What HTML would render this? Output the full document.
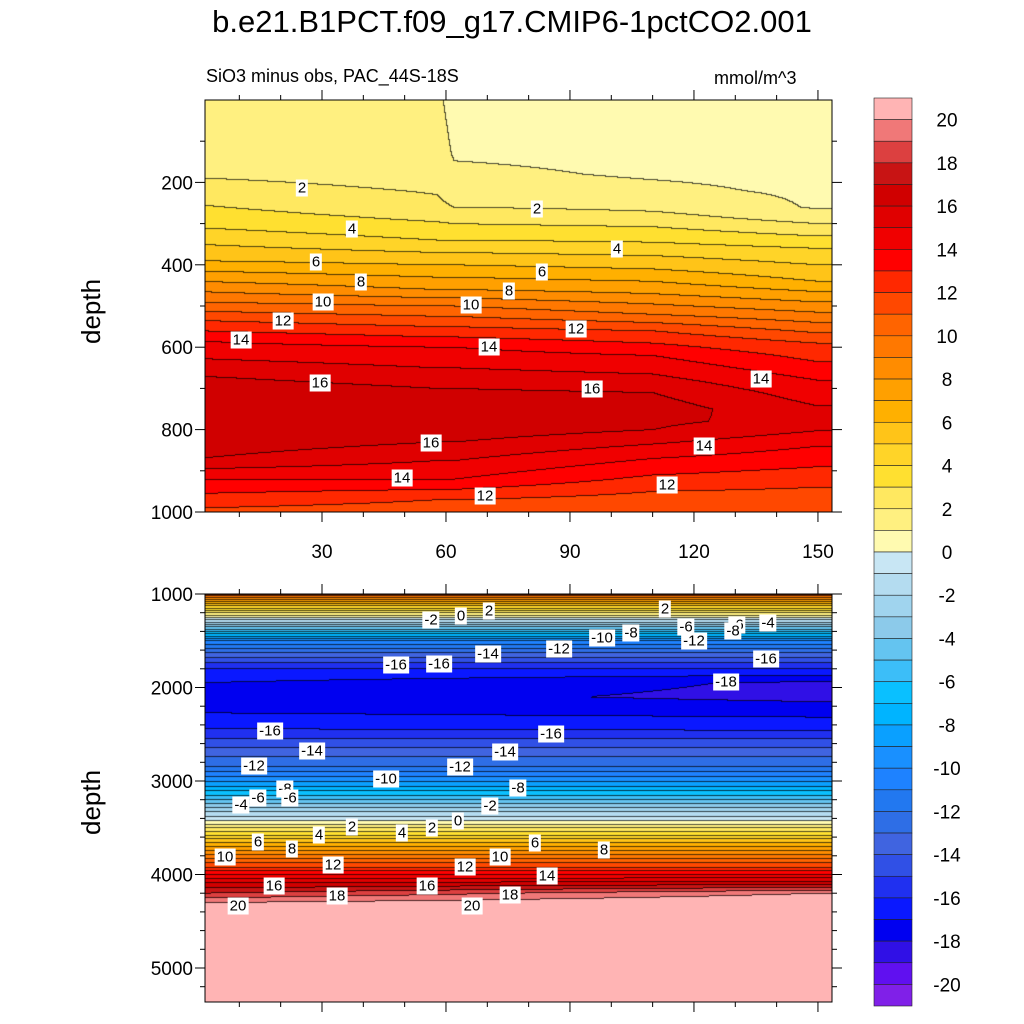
<!DOCTYPE html>
<html><head><meta charset="utf-8">
<style>
body{margin:0;background:#fff;width:1024px;height:1024px;position:relative;overflow:hidden;font-family:"Liberation Sans",sans-serif}
canvas{position:absolute}
.t{position:absolute;color:#000;white-space:nowrap}
.lab{position:absolute;background:#fff;font-size:15px;padding:0 2px;line-height:17px;transform:translate(-50%,-50%)}
</style></head><body>
<div class="t" style="left:0;width:1024px;text-align:center;top:4px;font-size:31px">b.e21.B1PCT.f09_g17.CMIP6-1pctCO2.001</div>
<div class="t" style="left:206px;top:66px;font-size:18px">SiO3 minus obs, PAC_44S-18S</div>
<div class="t" style="left:714px;top:68px;font-size:18px">mmol/m^3</div>
<div class="t" style="left:76px;top:344px;font-size:26px;transform:rotate(-90deg);transform-origin:left top">depth</div>
<div class="t" style="left:76px;top:835px;font-size:26px;transform:rotate(-90deg);transform-origin:left top">depth</div>
<canvas id="c1" width="627" height="412" style="left:205px;top:100px"></canvas>
<canvas id="c2" width="627" height="408" style="left:205px;top:594px"></canvas>
<svg id="ov" width="1024" height="1024" style="position:absolute;left:0;top:0"></svg>
<div id="labs"></div>
<script>
const colors=["#FFB4B4","#F07878","#DC4040","#C81414","#D00000","#E00000","#F00000","#FF0000","#FF2800","#FF4800","#FF6400","#FF7800","#FF8C00","#FFA000","#FFB000","#FFC418","#FFD428","#FFE030","#FFE860","#FFF080","#FFFAB0","#C8E6F4","#B4DCF0","#A0D4EE","#8CCAEA","#64C4F0","#3CBEF8","#0AC0FF","#00B4FF","#0AA0FF","#1990FF","#1E82FF","#2278F0","#2E6EE6","#4064E0","#3050E6","#2030F0","#0A18FF","#0000F0","#3010E6","#6010F0","#8020E8"];
const cbTicks=[20,18,16,14,12,10,8,6,4,2,0,-2,-4,-6,-8,-10,-12,-14,-16,-18,-20];
// top panel data: per-column profiles (depth, value)
const topX=[0,58,62,110,150];
const topD0=[0,100,180,215,310,390,440,490,535,585,670,700,750,830,870,920,990,1000];
const topV0=[1.3,1.5,1.9,2.3,4,6,8,10,12,14,16,16.6,16.9,16.6,16,14,12,11.8];
const topD1=[0,150,200,260,340,400,460,500,550,600,700,750,800,830,920,970,1000];
const topV1=[1.2,1.5,1.8,2.2,4,6,8,10,12,14,16,16.9,16.6,16,14,12,11.5];
const topD2=[0,130,200,260,340,400,460,500,550,600,700,750,800,830,920,970,1000];
const topV2=[0.6,0.9,1.3,2,4,6,8,10,12,14,16,16.9,16.6,16,14,12,11.5];
const topD3=[0,180,220,270,345,410,470,520,560,620,710,750,800,870,950,1000];
const topV3=[0.5,0.9,1.2,2,4,6,8,10,12,14,16,16.5,16,14,12,11];
const topD4=[0,260,285,300,360,440,490,540,590,680,780,840,940,1000];
const topV4=[0.5,0.9,1.5,2,4,6,8,10,12,14,15.6,14,12,11];
const topD=[topD0,topD1,topD2,topD3,topD4],topV=[topV0,topV1,topV2,topV3,topV4];
// bottom panel data
const botX=[0,150];
const botDepth=[1000,1100,1200,1300,1400,1500,1600,1700,1800,1950,2100,2270,2440,2640,2840,3060,3240,3420,3580,3740,3920,4090,4200,4300,4350,5400];
const botV0=[11,6,2,-2,-6,-10,-12.5,-14.5,-16,-17,-17.5,-17,-16,-14,-12,-8,-4,0,4,8,12,16,18,20,21,21];
const botV1=[11,6,2,-2,-6,-10,-12.5,-14.5,-16,-18.2,-18.3,-17.3,-16.2,-14,-12,-8,-4,0,4,8,12,16.5,20,21,21,21];
const botD=[botDepth,botDepth],botV=[botV0,botV1];
const xTicks=[30,60,90,120,150];
function xs(x){return 198+x*4.133;}
function interp(arr,vals,v){let n=arr.length;if(v<=arr[0])return vals[0];if(v>=arr[n-1])return vals[n-1];
 for(let i=0;i<n-1;i++)if(v<=arr[i+1]){let t=(v-arr[i])/(arr[i+1]-arr[i]);return vals[i]+t*(vals[i+1]-vals[i]);}}
function field(X,D,V,x,d){let col=X.map((_,i)=>interp(D[i],V[i],d));return interp(X,col,x);}
function idx(v){return Math.max(0,Math.min(41,20-Math.floor(v)));}
function draw(id,X,D,V,ys0,dpp,x0px){
 const c=document.getElementById(id),g=c.getContext('2d'),W=c.width,H=c.height;
 const img=g.createImageData(W,H);const L=new Int16Array(W*H);
 const rgb=colors.map(h=>[parseInt(h.substr(1,2),16),parseInt(h.substr(3,2),16),parseInt(h.substr(5,2),16)]);
 for(let j=0;j<H;j++){const d=ys0+j/dpp;for(let i=0;i<W;i++){const x=(x0px+i-198)/4.133;L[j*W+i]=idx(field(X,D,V,x,d));}}
 for(let j=0;j<H;j++)for(let i=0;i<W;i++){const k=j*W+i;let c3=rgb[L[k]];
  let edge=(i<W-1&&L[k]!==L[k+1])||(j<H-1&&L[k]!==L[k+W]);
  const p=k*4;if(edge){img.data[p]=c3[0]*0.3;img.data[p+1]=c3[1]*0.3;img.data[p+2]=c3[2]*0.3;}else{img.data[p]=c3[0];img.data[p+1]=c3[1];img.data[p+2]=c3[2];}img.data[p+3]=255;}
 g.putImageData(img,0,0);
}
draw('c1',topX,topD,topV,0,0.412,205);
draw('c2',botX,botD,botV,1000,0.0935,205);
const NS='http://www.w3.org/2000/svg';const ov=document.getElementById('ov');
function el(t,a,txt){const e=document.createElementNS(NS,t);for(const k in a)e.setAttribute(k,a[k]);if(txt!==undefined)e.textContent=txt;ov.appendChild(e);return e;}
let f1=el('rect',{x:205,y:100,width:627,height:412,fill:'none',stroke:'#000','stroke-width':1});

let f2=el('rect',{x:205,y:594,width:627,height:408,fill:'none',stroke:'#000','stroke-width':1});

for(let d=100;d<=1000;d+=100){const y=100+d*0.412;const maj=d%200==0;
 el('line',{x1:205,x2:205-(maj?10:5),y1:y,y2:y,stroke:'#000'});el('line',{x1:832,x2:832+(maj?10:5),y1:y,y2:y,stroke:'#000'});
 if(maj){const t=el('text',{x:193,y:y+7,'text-anchor':'end','font-size':19},d);}}
for(let d=1000;d<=5300;d+=200){const y=594+(d-1000)*0.0935;const maj=d%1000==0;
 el('line',{x1:205,x2:205-(maj?10:5),y1:y,y2:y,stroke:'#000'});el('line',{x1:832,x2:832+(maj?10:5),y1:y,y2:y,stroke:'#000'});
 if(maj){const t=el('text',{x:193,y:y+7,'text-anchor':'end','font-size':19},d);}}
for(let x=10;x<=150;x+=10){const px=xs(x);const maj=x%30==0;
 [[512,1],[100,-1],[594,-1],[1002,1]].forEach(([y,s])=>el('line',{x1:px,x2:px,y1:y,y2:y+s*(maj?10:5),stroke:'#000'}));}
xTicks.forEach(x=>{const t=el('text',{x:xs(x),y:558,'text-anchor':'middle','font-size':19},x);});
const cbTop=98,cbH=908/42;
colors.forEach((c,i)=>{const r=el('rect',{x:874,y:cbTop+i*cbH,width:38,height:cbH,fill:c,stroke:'#222','stroke-width':0.6});});
cbTicks.forEach(v=>{const y=cbTop+(21-v)*cbH;const t=el('text',{x:947,y:y+7,'text-anchor':'middle','font-size':19},v);});
const labs=[[302,188,'2'],[537,209,'2'],[352,229,'4'],[617,249,'4'],[316,262,'6'],[542,272,'6'],[361,282,'8'],[509,291,'8'],[323,302,'10'],[471,305,'10'],[283,321,'12'],[576,329,'12'],[241,340,'14'],[489,347,'14'],[320,383,'16'],[592,389,'16'],[761,379,'14'],[431,443,'16'],[704,446,'14'],[402,478,'14'],[485,496,'12'],[667,485,'12'],
[431,620,'-2'],[461,616,'0'],[489,611,'2'],[665,609,'2'],[559,649,'-12'],[602,638,'-10'],[631,633,'-8'],[686,627,'-6'],[737,625,'-6'],[768,623,'-4'],[488,654,'-14'],[396,665,'-16'],[439,664,'-16'],[694,641,'-12'],[733,631,'-8'],[766,659,'-16'],[726,682,'-18'],
[270,731,'-16'],[551,734,'-16'],[312,751,'-14'],[505,752,'-14'],[254,766,'-12'],[460,767,'-12'],[386,779,'-10'],[285,789,'-8'],[518,788,'-8'],[258,798,'-6'],[241,805,'-4'],[290,798,'-6'],[490,806,'-2'],[458,821,'0'],[402,833,'4'],[432,828,'2'],[352,827,'2'],[319,835,'4'],[258,842,'6'],[292,849,'8'],[225,857,'10'],[333,865,'12'],[465,867,'12'],[500,857,'10'],[535,843,'6'],[604,850,'8'],[547,876,'14'],[274,886,'16'],[427,886,'16'],[337,896,'18'],[510,895,'18'],[238,906,'20'],[472,906,'20']];
const LD=document.getElementById('labs');
labs.forEach(([x,y,s])=>{const d=document.createElement('div');d.className='lab';d.style.left=x+'px';d.style.top=y+'px';d.textContent=s;


LD.appendChild(d);});
</script>
</body></html>
